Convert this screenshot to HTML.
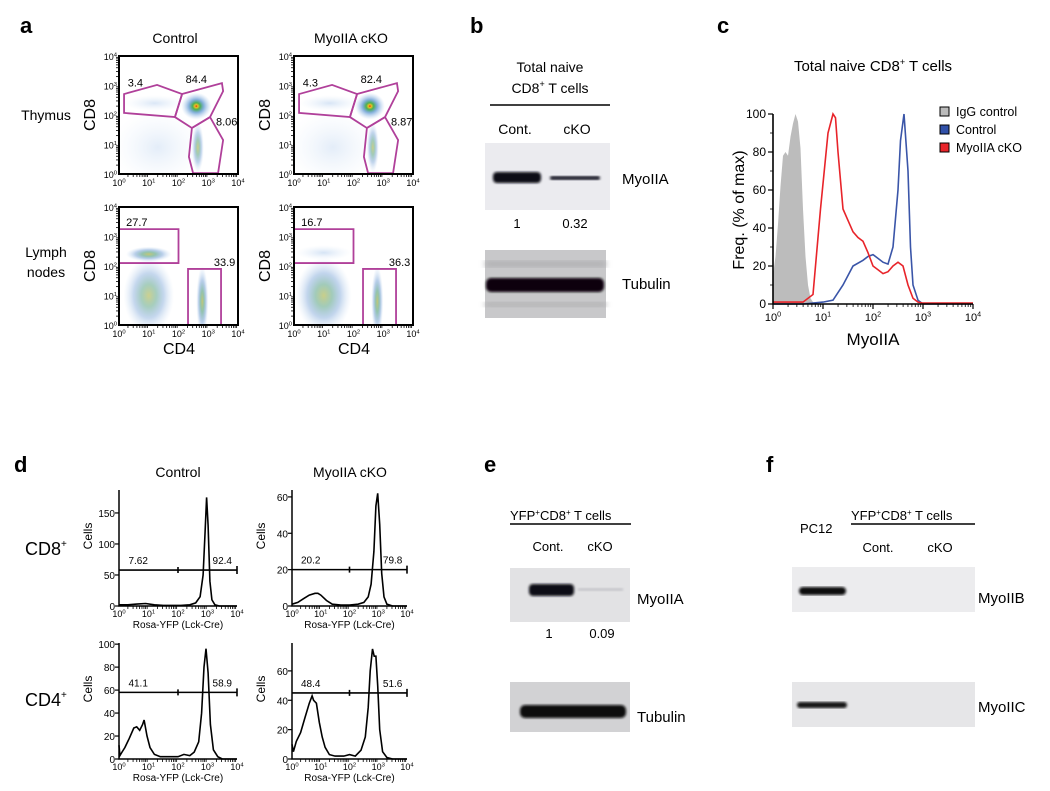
<!DOCTYPE html>
<html><head><meta charset="utf-8"><style>
html,body{margin:0;padding:0;background:#fff;}
svg{display:block;font-family:"Liberation Sans",Arial,sans-serif;}
</style></head><body>
<svg id="fig" width="1050" height="791" viewBox="0 0 1050 791">
<defs>
<radialGradient id="hot"><stop offset="0" stop-color="#e0201a"/><stop offset="0.1" stop-color="#f0c020"/><stop offset="0.25" stop-color="#4cb050"/><stop offset="0.5" stop-color="#3a80c8" stop-opacity="0.6"/><stop offset="1" stop-color="#9cc0e8" stop-opacity="0"/></radialGradient>
<radialGradient id="warm"><stop offset="0" stop-color="#a8b040" stop-opacity="0.9"/><stop offset="0.3" stop-color="#4a9a78" stop-opacity="0.75"/><stop offset="0.6" stop-color="#3a78c4" stop-opacity="0.45"/><stop offset="1" stop-color="#9cc0e8" stop-opacity="0"/></radialGradient>
<radialGradient id="cool"><stop offset="0" stop-color="#4a88d4" stop-opacity="0.4"/><stop offset="1" stop-color="#a8c8ec" stop-opacity="0"/></radialGradient>
<filter id="blur"><feGaussianBlur stdDeviation="1.3"/></filter>
<filter id="blur2"><feGaussianBlur stdDeviation="3"/></filter>
</defs>

<text x="20" y="33" font-size="22" font-weight="bold">a</text>
<text x="470" y="33" font-size="22" font-weight="bold">b</text>
<text x="717" y="33" font-size="22" font-weight="bold">c</text>
<text x="14" y="472" font-size="22" font-weight="bold">d</text>
<text x="484" y="472" font-size="22" font-weight="bold">e</text>
<text x="766" y="472" font-size="22" font-weight="bold">f</text>

<text x="175" y="43" font-size="14" text-anchor="middle">Control</text>
<text x="351" y="43" font-size="14" text-anchor="middle">MyoIIA cKO</text>
<text x="46" y="120" font-size="14" text-anchor="middle">Thymus</text>
<text x="46" y="257" font-size="14" text-anchor="middle">Lymph</text>
<text x="46" y="277" font-size="14" text-anchor="middle">nodes</text>
<text x="179" y="354" font-size="16" text-anchor="middle">CD4</text>
<text x="354" y="354" font-size="16" text-anchor="middle">CD4</text>
<g id="flowLayer"></g>

<text x="550" y="72" font-size="14" text-anchor="middle">Total naive</text>
<text x="550" y="93" font-size="14" text-anchor="middle">CD8<tspan font-size="9" dy="-6">+</tspan><tspan dy="6"> T cells</tspan></text>
<line x1="490" y1="105" x2="610" y2="105" stroke="#000" stroke-width="1.5"/>
<text x="515" y="134" font-size="14" text-anchor="middle">Cont.</text>
<text x="577" y="134" font-size="14" text-anchor="middle">cKO</text>
<rect x="485" y="143" width="125" height="67" fill="#ebebef"/>
<rect x="493" y="172" width="48" height="11" rx="4" fill="#0a0a14" filter="url(#blur)"/>
<rect x="550" y="176" width="50" height="4" rx="2" fill="#1a1a2a" filter="url(#blur)"/>
<text x="622" y="184" font-size="15">MyoIIA</text>
<text x="517" y="228" font-size="13" text-anchor="middle">1</text>
<text x="575" y="228" font-size="13" text-anchor="middle">0.32</text>
<rect x="485" y="250" width="121" height="68" fill="#c8c8ca"/>
<rect x="485" y="261" width="121" height="6" fill="#b0b0b2" filter="url(#blur2)"/>
<rect x="485" y="302" width="121" height="5" fill="#b2b2b4" filter="url(#blur2)"/>
<rect x="486" y="278" width="118" height="14" rx="5" fill="#0c0608" filter="url(#blur)"/>
<text x="622" y="289" font-size="15">Tubulin</text>

<text x="873" y="71" font-size="15" text-anchor="middle">Total naive CD8<tspan font-size="9" dy="-6">+</tspan><tspan dy="6"> T cells</tspan></text>
<text transform="translate(744,210) rotate(-90)" font-size="16" text-anchor="middle">Freq. (% of max)</text>
<text x="873" y="345" font-size="17" text-anchor="middle">MyoIIA</text>
<g id="cLayer"></g>
<g>
<rect x="940" y="107" width="9" height="9" fill="#bbb" stroke="#000" stroke-width="1"/>
<text x="956" y="116" font-size="12.5">IgG control</text>
<rect x="940" y="125" width="9" height="9" fill="#3050a8" stroke="#000" stroke-width="1"/>
<text x="956" y="134" font-size="12.5">Control</text>
<rect x="940" y="143" width="9" height="9" fill="#e8242a" stroke="#000" stroke-width="1"/>
<text x="956" y="152" font-size="12.5">MyoIIA cKO</text>
</g>

<text x="178" y="477" font-size="14" text-anchor="middle">Control</text>
<text x="350" y="477" font-size="14" text-anchor="middle">MyoIIA cKO</text>
<text x="25" y="555" font-size="18">CD8<tspan font-size="10" dy="-8">+</tspan></text>
<text x="25" y="706" font-size="18">CD4<tspan font-size="10" dy="-8">+</tspan></text>
<g id="dLayer"></g>

<text x="510" y="520" font-size="13">YFP<tspan font-size="8" dy="-5">+</tspan><tspan dy="5">CD8</tspan><tspan font-size="8" dy="-5">+</tspan><tspan dy="5"> T cells</tspan></text>
<line x1="510" y1="524" x2="631" y2="524" stroke="#000" stroke-width="1.5"/>
<text x="548" y="551" font-size="13" text-anchor="middle">Cont.</text>
<text x="600" y="551" font-size="13" text-anchor="middle">cKO</text>
<rect x="510" y="568" width="120" height="54" fill="#e2e2e4"/>
<rect x="529" y="584" width="45" height="12" rx="4" fill="#101012" filter="url(#blur)"/>
<rect x="578" y="588" width="45" height="3" fill="#c6c6ca" filter="url(#blur)"/>
<text x="637" y="604" font-size="15">MyoIIA</text>
<text x="549" y="638" font-size="13" text-anchor="middle">1</text>
<text x="602" y="638" font-size="13" text-anchor="middle">0.09</text>
<rect x="510" y="682" width="120" height="50" fill="#d2d2d4"/>
<rect x="520" y="705" width="106" height="13" rx="5" fill="#0c0c0e" filter="url(#blur)"/>
<text x="637" y="722" font-size="15">Tubulin</text>

<text x="800" y="533" font-size="13">PC12</text>
<text x="851" y="520" font-size="13">YFP<tspan font-size="8" dy="-5">+</tspan><tspan dy="5">CD8</tspan><tspan font-size="8" dy="-5">+</tspan><tspan dy="5"> T cells</tspan></text>
<line x1="851" y1="524" x2="975" y2="524" stroke="#000" stroke-width="1.5"/>
<text x="878" y="552" font-size="13" text-anchor="middle">Cont.</text>
<text x="940" y="552" font-size="13" text-anchor="middle">cKO</text>
<rect x="792" y="567" width="183" height="45" fill="#ececee"/>
<rect x="799" y="587" width="47" height="8" rx="4" fill="#0a0a0c" filter="url(#blur)"/>
<text x="978" y="603" font-size="15">MyoIIB</text>
<rect x="792" y="682" width="183" height="45" fill="#e6e6e8"/>
<rect x="797" y="702" width="50" height="6" rx="3" fill="#141416" filter="url(#blur)"/>
<text x="978" y="712" font-size="15">MyoIIC</text>
</svg>

<script>
const thymusPopsControl = [[1.3,0.9,0.9,0.75,0.12],[1.2,2.4,0.6,0.16,0.3],[2.65,0.9,0.12,0.5,0.55],[2.6,2.3,0.3,0.27,1]];
const thymusPopsCko     = [[1.3,0.9,0.9,0.75,0.12],[1.2,2.4,0.6,0.16,0.35],[2.65,0.9,0.12,0.5,0.55],[2.55,2.3,0.3,0.27,1]];
const lnPopsControl     = [[1.0,1.0,0.5,0.75,0.5],[1.0,2.4,0.45,0.15,0.7],[2.8,0.8,0.12,0.7,0.7]];
const lnPopsCko         = [[1.0,1.0,0.55,0.75,0.55],[1.0,2.45,0.55,0.15,0.4],[2.8,0.8,0.12,0.7,0.7]];
const thymusGates = [
  [[0.17,2.71],[1.28,3.02],[2.12,2.71],[1.88,1.93],[0.17,2.07]],
  [[2.12,2.71],[3.46,3.08],[3.5,2.81],[3.06,1.93],[2.45,1.56],[1.88,1.93]],
  [[2.45,1.56],[3.06,1.93],[3.5,1.15],[3.33,0.03],[2.49,0.03],[2.35,0.58]]
];
const lnGates = [
  [[0.0,3.25],[2.0,3.25],[2.0,2.1],[0.0,2.1]],
  [[2.32,1.9],[3.43,1.9],[3.43,0.0],[2.32,0.0]]
];
const thymusPctControl = ['3.4','84.4','8.06'];
const thymusPctCko     = ['4.3','82.4','8.87'];
const lnPctControl     = ['27.7','33.9'];
const lnPctCko         = ['16.7','36.3'];
const thymusPctPos = [[0.55,3.1],[2.6,3.22],[3.62,1.78]];
const lnPctPos     = [[0.6,3.5],[3.55,2.13]];
const logTicks = [0,1,2,3,4];

const cIggX = [0,0.05,0.1,0.15,0.2,0.25,0.3,0.35,0.4,0.45,0.5,0.55,0.6,0.65,0.7,0.75,0.8,0.85,0.9];
const cIggY = [15,25,42,62,78,80,78,88,95,100,96,82,50,25,10,3,1,0,0];
const cCtrlX = [0,0.6,1.0,1.2,1.4,1.6,1.8,1.9,2.0,2.1,2.2,2.3,2.4,2.5,2.55,2.58,2.62,2.7,2.75,2.8,2.9,3.0,3.5,4.0];
const cCtrlY = [0,0,1,2,10,20,23,25,26,24,22,21,30,60,86,92,100,70,30,10,2,0,0,0];
const cCkoX = [0,0.6,0.8,0.95,1.1,1.2,1.25,1.3,1.4,1.5,1.6,1.7,1.8,1.9,2.0,2.1,2.2,2.3,2.4,2.5,2.6,2.7,2.8,2.9,3.0,3.5,4.0];
const cCkoY = [1,1,5,50,90,100,98,80,50,44,38,35,33,27,20,18,16,17,20,22,20,10,3,1,0.5,0.5,0.5];
const cYTicks = [0,20,40,60,80,100];

const dCd8CtrlX = [0,0.3,0.6,0.9,1.2,1.5,1.8,2.1,2.4,2.6,2.75,2.85,2.92,2.97,3.02,3.08,3.15,3.25,3.4,3.7,4];
const dCd8CtrlY = [2,2,3,4,2,1,1,1,2,5,15,50,120,175,130,40,10,2,0,0,0];
const dCd8CkoX = [0,0.2,0.4,0.6,0.8,0.9,1.0,1.2,1.4,1.7,2.0,2.3,2.5,2.65,2.75,2.85,2.92,2.98,3.05,3.12,3.2,3.3,3.5,4];
const dCd8CkoY = [1,2,4,6,7,7,6,3,1,0.5,0.5,1,2,5,12,30,55,62,45,18,5,1,0,0];
const dCd4CtrlX = [0,0.03,0.1,0.2,0.35,0.5,0.6,0.7,0.8,0.85,0.95,1.05,1.2,1.4,1.7,2.0,2.2,2.4,2.55,2.7,2.8,2.88,2.95,3.02,3.1,3.2,3.35,3.5,4];
const dCd4CtrlY = [12,3,6,10,18,27,28,25,30,34,20,10,4,2,2,2,4,3,6,15,40,80,96,75,30,8,2,0,0];
const dCd4CkoX = [0,0.05,0.15,0.3,0.45,0.6,0.7,0.75,0.85,0.95,1.05,1.15,1.3,1.5,1.8,2.0,2.2,2.4,2.55,2.65,2.72,2.8,2.86,2.92,2.98,3.05,3.15,3.3,3.5,4];
const dCd4CkoY = [10,5,12,18,28,38,43,40,38,25,15,8,3,2,2,3,2,6,15,35,60,75,70,70,50,20,5,1,0,0];
const dGateValues = [58,20,58,45];
const dPctLeft  = ['7.62','20.2','41.1','48.4'];
const dPctRight = ['92.4','79.8','58.9','51.6'];
const dTicksCd8Ctrl = [0,50,100,150];
const dTicksCd8Cko  = [0,20,40,60];
const dTicksCd4Ctrl = [0,20,40,60,80,100];
const dTicksCd4Cko  = [0,20,40,60];

const NS = 'http://www.w3.org/2000/svg';
function mk(tag, parent, attrs){
  const e = document.createElementNS(NS, tag);
  for (const k in attrs) e.setAttribute(k, attrs[k]);
  parent.appendChild(e);
  return e;
}
function pow10Label(parent, x, y, n, size, anchor){
  const t = mk('text', parent, {x:x, y:y, 'font-size':size, 'text-anchor':anchor});
  
  
  t.appendChild(document.createTextNode('10'));
  const s = mk('tspan', t, {'font-size':size*0.65, dy:-size*0.4});
  s.textContent = String(n);
  return t;
}
function logMinorTicks(parent, horiz, p0, decadePx, base, dir, len){
  for (let d = 0; d < 4; d++){
    for (let m = 2; m <= 9; m++){
      const p = p0 + dir*(d + Math.log10(m))*decadePx;
      const l = horiz ? mk('line', parent, {x1:p, y1:base, x2:p, y2:base+len, stroke:'#000', 'stroke-width':0.8})
                      : mk('line', parent, {x1:base, y1:p, x2:base-len, y2:p, stroke:'#000', 'stroke-width':0.8});
      
      
    }
  }
}

const flowLayer = document.getElementById('flowLayer');
function drawFlow(x0, yb, pops, gates, pcts, pctPos, name){
  const W = 119, H = 118, dec = W/4, decY = H/4;
  const sx = v => x0 + v*dec, sy = v => yb - v*decY;
  const g = mk('g', flowLayer, {});
  
  
  const clip = mk('clipPath', g, {id:'clip-'+name});
  mk('rect', clip, {x:x0, y:yb-H, width:W, height:H});
  const dg = mk('g', g, {'clip-path':'url(#clip-'+name+')'});
  pops.forEach(p => {
    const grad = p[4] >= 0.9 ? 'url(#hot)' : (p[4] >= 0.5 ? 'url(#warm)' : 'url(#cool)');
    const e = mk('ellipse', dg, {cx:sx(p[0]), cy:sy(p[1]), rx:p[2]*dec*1.7, ry:p[3]*decY*1.7, fill:grad, opacity:Math.min(1, 0.3+p[4]*0.7)});
    
    
  });
  gates.forEach(gt => {
    const pg = mk('polygon', dg, {points:gt.map(q => sx(q[0])+','+sy(q[1])).join(' '), fill:'none', stroke:'#b0409a', 'stroke-width':1.8});
    
    
  });
  pcts.forEach((t, i) => {
    const tx = mk('text', g, {x:sx(pctPos[i][0]), y:sy(pctPos[i][1])+4, 'font-size':11, 'text-anchor':'middle'});
    tx.textContent = t;
    
    
  });
  const fr = mk('rect', g, {x:x0, y:yb-H, width:W, height:H, fill:'none', stroke:'#000', 'stroke-width':2});
  
  
  logMinorTicks(g, true, x0, dec, yb, 1, 3);
  logMinorTicks(g, false, yb, decY, x0, -1, 3);
  logTicks.forEach(n => {
    pow10Label(g, sx(n), yb+12, n, 9, 'middle');
    pow10Label(g, x0-2, sy(n)+4, n, 9, 'end');
  });
  const yt = mk('text', g, {transform:'translate('+(x0-24)+','+(yb-H/2)+') rotate(-90)', 'font-size':16, 'text-anchor':'middle'});
  yt.textContent = 'CD8';
  
  
}
drawFlow(119, 174, thymusPopsControl, thymusGates, thymusPctControl, thymusPctPos, 'thymus-control-plot');
drawFlow(294, 174, thymusPopsCko, thymusGates, thymusPctCko, thymusPctPos, 'thymus-cko-plot');
drawFlow(119, 325, lnPopsControl, lnGates, lnPctControl, lnPctPos, 'ln-control-plot');
drawFlow(294, 325, lnPopsCko, lnGates, lnPctCko, lnPctPos, 'ln-cko-plot');

const cLayer = document.getElementById('cLayer');
const cx0 = 773, cx1 = 973, cy0 = 304, cyTop = 114;
const cSx = v => cx0 + v*(cx1-cx0)/4;
const cSy = v => cy0 - v*(cy0-cyTop)/100;
function linePath(xs, ys, sx, sy){ return xs.map((x,i) => (i?'L':'M')+sx(x).toFixed(1)+','+sy(ys[i]).toFixed(1)).join(''); }
const igg = mk('path', cLayer, {d:linePath(cIggX, cIggY, cSx, cSy)+'L'+cSx(cIggX[cIggX.length-1])+','+cy0+'L'+cx0+','+cy0+'Z', fill:'#bcbcbc', stroke:'none'});


const ctl = mk('path', cLayer, {d:linePath(cCtrlX, cCtrlY, cSx, cSy), fill:'none', stroke:'#3a55a8', 'stroke-width':1.6});


const cko = mk('path', cLayer, {d:linePath(cCkoX, cCkoY, cSx, cSy), fill:'none', stroke:'#e8242a', 'stroke-width':1.6});


const cax = mk('path', cLayer, {d:'M'+cx0+','+cyTop+'V'+cy0+'H'+cx1, fill:'none', stroke:'#000', 'stroke-width':1.6});


logMinorTicks(cLayer, true, cx0, (cx1-cx0)/4, cy0, 1, 3);
logTicks.forEach(n => {
  const tk = mk('line', cLayer, {x1:cSx(n), y1:cy0, x2:cSx(n), y2:cy0+5, stroke:'#000', 'stroke-width':1.2});
  
  
  pow10Label(cLayer, cSx(n), cy0+17, n, 11, 'middle');
});
cYTicks.forEach(v => {
  const tk = mk('line', cLayer, {x1:cx0-5, y1:cSy(v), x2:cx0, y2:cSy(v), stroke:'#000', 'stroke-width':1.2});
  
  
  if (v < 100) {
    const mn = mk('line', cLayer, {x1:cx0-3, y1:cSy(v+10), x2:cx0, y2:cSy(v+10), stroke:'#000', 'stroke-width':0.8});
    
    
  }
  const t = mk('text', cLayer, {x:cx0-7, y:cSy(v)+4, 'font-size':12, 'text-anchor':'end'});
  t.textContent = String(v);
  
  
});

const dLayer = document.getElementById('dLayer');
const dPlots = [
  {x0:119, x1:237, y0:606, yTop:490, yMax:187,  xs:dCd8CtrlX, ys:dCd8CtrlY, ticks:dTicksCd8Ctrl, name:'d-cd8-control-hist'},
  {x0:292, x1:407, y0:606, yTop:490, yMax:63.8, xs:dCd8CkoX,  ys:dCd8CkoY,  ticks:dTicksCd8Cko,  name:'d-cd8-cko-hist'},
  {x0:119, x1:237, y0:759, yTop:643, yMax:101,  xs:dCd4CtrlX, ys:dCd4CtrlY, ticks:dTicksCd4Ctrl, name:'d-cd4-control-hist'},
  {x0:292, x1:407, y0:759, yTop:643, yMax:79,   xs:dCd4CkoX,  ys:dCd4CkoY,  ticks:dTicksCd4Cko,  name:'d-cd4-cko-hist'}
];
dPlots.forEach((p, i) => {
  const dec = (p.x1-p.x0)/4;
  const sx = v => p.x0 + v*dec;
  const sy = v => p.y0 - v*(p.y0-p.yTop)/p.yMax;
  const g = mk('g', dLayer, {});
  
  
  const hp = mk('path', g, {d:linePath(p.xs, p.ys, sx, sy), fill:'none', stroke:'#000', 'stroke-width':1.6});
  
  
  const ax = mk('path', g, {d:'M'+p.x0+','+p.yTop+'V'+p.y0+'H'+p.x1, fill:'none', stroke:'#000', 'stroke-width':1.5});
  
  
  logMinorTicks(g, true, p.x0, dec, p.y0, 1, 3);
  logTicks.forEach(n => pow10Label(g, sx(n), p.y0+11, n, 9, 'middle'));
  p.ticks.forEach(v => {
    const tk = mk('line', g, {x1:p.x0-4, y1:sy(v), x2:p.x0, y2:sy(v), stroke:'#000', 'stroke-width':1.2});
    
    
    const t = mk('text', g, {x:p.x0-4, y:sy(v)+4, 'font-size':10, 'text-anchor':'end'});
    t.textContent = String(v);
    
    
  });
  const gy = sy(dGateValues[i]);
  const gl = mk('path', g, {d:'M'+p.x0+','+gy+'H'+p.x1+'M'+sx(2)+','+(gy-3)+'V'+(gy+3)+'M'+p.x1+','+(gy-4)+'V'+(gy+4), fill:'none', stroke:'#000', 'stroke-width':1.6});
  
  
  const tl = mk('text', g, {x:sx(0.65), y:gy-6, 'font-size':10, 'text-anchor':'middle'});
  tl.textContent = dPctLeft[i];
  
  
  const tr = mk('text', g, {x:sx(3.5), y:gy-6, 'font-size':10, 'text-anchor':'middle'});
  tr.textContent = dPctRight[i];
  
  
  const yl = mk('text', g, {transform:'translate('+(p.x0-27)+','+(p.y0-70)+') rotate(-90)', 'font-size':12, 'text-anchor':'middle'});
  yl.textContent = 'Cells';
  
  
  const xl = mk('text', g, {x:(p.x0+p.x1)/2, y:p.y0+22, 'font-size':10, 'text-anchor':'middle'});
  xl.textContent = 'Rosa-YFP (Lck-Cre)';
  
  
});
</script>
</body></html>
